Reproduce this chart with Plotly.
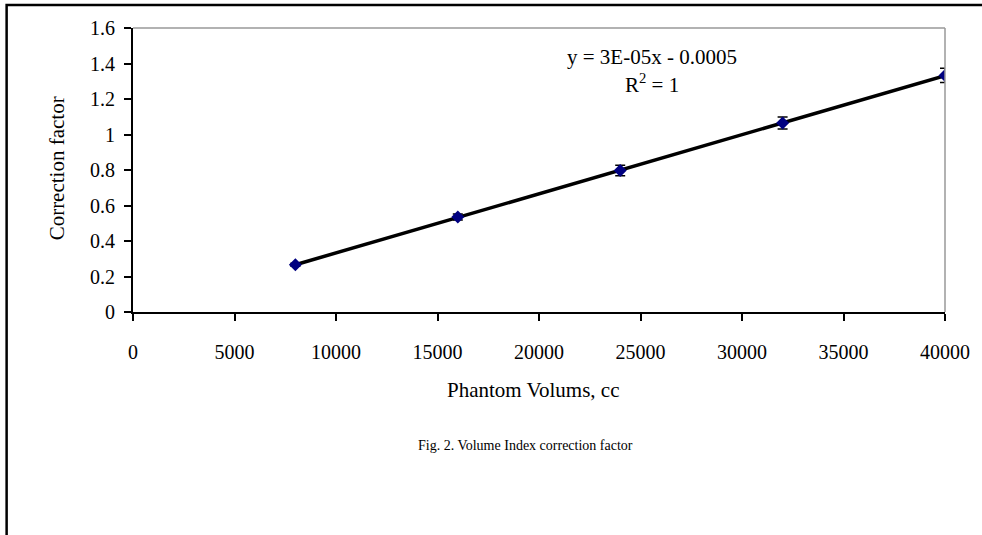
import numpy as np
import plotly.graph_objects as go

volumes = [8000, 16000, 24000, 32000, 40000]
factors = [0.266, 0.535, 0.797, 1.065, 1.333]
errors = [0.008, 0.017, 0.03, 0.034, 0.04]
x_ticks = [0, 5000, 10000, 15000, 20000, 25000, 30000, 35000, 40000]
x_tick_text = ["0", "5000", "10000", "15000", "20000", "25000", "30000", "35000", "40000"]
y_ticks = [0, 0.2, 0.4, 0.6, 0.8, 1, 1.2, 1.4, 1.6]
y_tick_text = ["0", "0.2", "0.4", "0.6", "0.8", "1", "1.2", "1.4", "1.6"]
equation = "y = 3E-05x - 0.0005"
r2_text = "R<sup>2</sup> = 1"
x_title = "Phantom Volums, cc"
y_title = "Correction factor"
caption = "Fig. 2. Volume Index correction factor"

slope, intercept = np.polyfit(volumes, factors, 1)
trend_x = [volumes[0], volumes[-1]]
trend_y = [slope * v + intercept for v in trend_x]

FONT = "Liberation Serif, Times New Roman, serif"
W, H = 982, 535
L, R, T, B = 133, 33, 28, 223
pw, ph = W - L - R, H - T - B

def px(xp):
    return (xp - L) / pw

def py(yp):
    return 1 - (yp - T) / ph

fig = go.Figure()
fig.add_trace(go.Scatter(
    x=trend_x, y=trend_y, mode="lines",
    line=dict(color="black", width=3.5), showlegend=False, hoverinfo="skip"))
fig.add_trace(go.Scatter(
    x=volumes, y=factors, mode="markers",
    marker=dict(symbol="diamond", size=10, color="#000080"),
    error_y=dict(type="data", array=errors, visible=True, color="black",
                 thickness=1.5, width=5),
    showlegend=False))

fig.update_layout(
    width=W, height=H,
    margin=dict(l=L, r=R, t=T, b=B),
    paper_bgcolor="white", plot_bgcolor="white",
    font=dict(family=FONT, size=20, color="black"),
    xaxis=dict(range=[0, 40000], tickvals=x_ticks, ticktext=x_tick_text,
               showgrid=False, zeroline=False,
               showline=True, linecolor="black", linewidth=2,
               ticks="outside", ticklen=7, tickwidth=2, tickcolor="black",
               ticklabelstandoff=14, tickfont=dict(size=20)),
    yaxis=dict(range=[0, 1.6], tickvals=y_ticks, ticktext=y_tick_text,
               showgrid=False, zeroline=False,
               showline=True, linecolor="black", linewidth=2,
               ticks="outside", ticklen=7, tickwidth=2, tickcolor="black",
               ticklabelstandoff=5, tickfont=dict(size=20)),
    shapes=[
        dict(type="line", xref="paper", yref="paper", x0=0, x1=1, y0=1, y1=1,
             line=dict(color="#999999", width=1.5)),
        dict(type="line", xref="paper", yref="paper", x0=1, x1=1, y0=0, y1=1,
             line=dict(color="#999999", width=1.5)),
        dict(type="rect", xref="paper", yref="paper",
             x0=px(6), x1=px(W + 20), y0=py(H + 20), y1=py(5),
             line=dict(color="black", width=2.5), layer="above"),
    ],
    annotations=[
        dict(text=equation, xref="paper", yref="paper", x=px(655), y=py(57),
             showarrow=False, xanchor="center", yanchor="middle", font=dict(size=21)),
        dict(text=r2_text, xref="paper", yref="paper", x=px(655), y=py(84),
             showarrow=False, xanchor="center", yanchor="middle", font=dict(size=21)),
        dict(text=y_title, xref="paper", yref="paper", x=px(57), y=py(168),
             showarrow=False, xanchor="center", yanchor="middle", textangle=-90,
             font=dict(size=21)),
        dict(text=x_title, xref="paper", yref="paper", x=px(535), y=py(390),
             showarrow=False, xanchor="center", yanchor="middle", font=dict(size=21)),
        dict(text=caption, xref="paper", yref="paper", x=px(527), y=py(445),
             showarrow=False, xanchor="center", yanchor="middle", font=dict(size=14)),
    ],
)

fig.write_html("out.html", config={"displayModeBar": False},
               post_script="document.body.style.margin='0';document.body.style.padding='0';")
